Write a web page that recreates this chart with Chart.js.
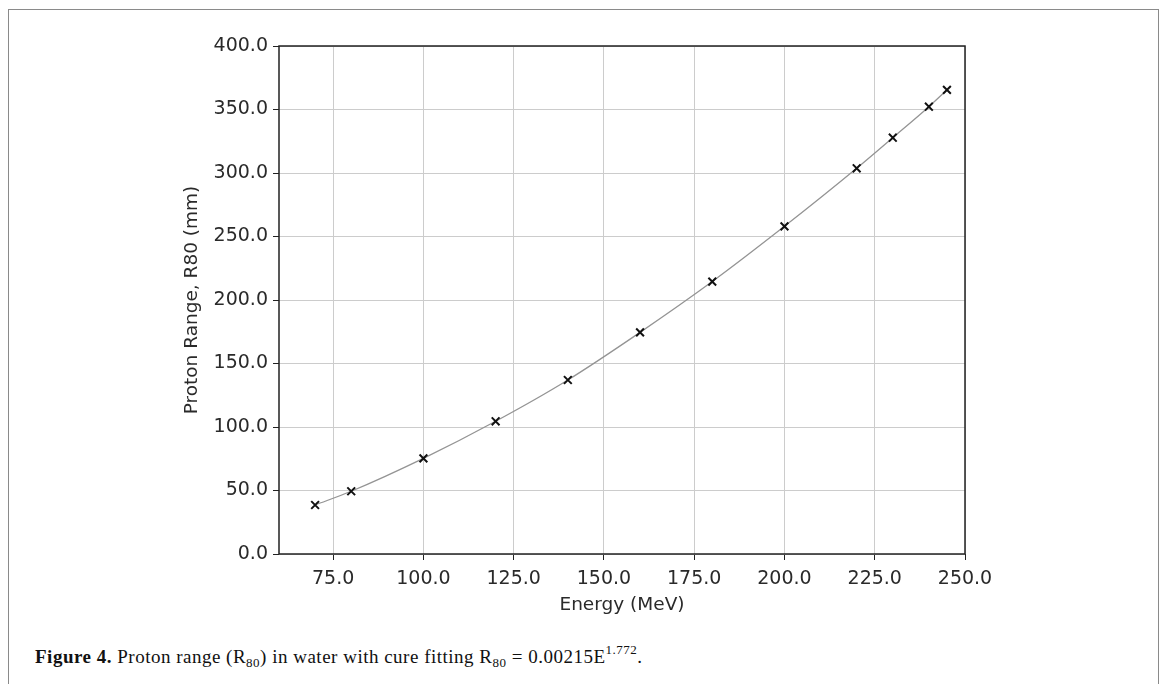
<!DOCTYPE html>
<html>
<head>
<meta charset="utf-8">
<script src="https://cdn.jsdelivr.net/npm/chart.js@4/dist/chart.umd.min.js"></script>
<style>
  body { margin: 0; background: #fff; width: 1167px; height: 684px; overflow: hidden; position: relative; }
  .frame { position: absolute; left: 8px; top: 9px; width: 1151px; height: 700px; border: 1px solid #8a8a8a; box-sizing: border-box; }
  .chartBox { position: absolute; left: 0; top: 0; width: 1167px; height: 616px; }
  .caption { position: absolute; left: 35px; top: 646px; font-family: "Liberation Serif", serif; font-size: 19px; letter-spacing: 0.5px; color: #111; white-space: nowrap; }
  .caption sub { font-size: 13px; vertical-align: -4px; line-height: 0; }
  .caption sup { font-size: 13px; vertical-align: 9px; line-height: 0; }
</style>
</head>
<body>
<div class="frame"></div>
<div class="chartBox"><canvas id="chart"></canvas></div>
<div class="caption"><b>Figure 4.</b> Proton range (R<sub>80</sub>) in water with cure fitting R<sub>80</sub> = 0.00215E<sup>1.772</sup>.</div>
<script>
const energy = [70, 80, 100, 120, 140, 160, 180, 200, 220, 230, 240, 245];
const range = [38.6, 49.4, 75.3, 104.5, 137, 174.5, 214.5, 258, 303.7, 327.8, 352.2, 365.4];
const xTicks = [75, 100, 125, 150, 175, 200, 225, 250];
const yTicks = [0, 50, 100, 150, 200, 250, 300, 350, 400];

const tickFont = { family: 'DejaVu Sans', size: 19 };
const titleFont = { family: 'DejaVu Sans', size: 18.5 };

// matplotlib-style box round the plot area
const frameBox = {
  id: 'frameBox',
  afterDatasetsDraw(chart) {
    const { ctx, chartArea: a } = chart;
    ctx.save();
    ctx.strokeStyle = '#222';
    ctx.lineWidth = 1.5;
    ctx.strokeRect(a.left, a.top, a.right - a.left, a.bottom - a.top);
    ctx.restore();
  },
};

new Chart(document.getElementById('chart'), {
  type: 'line',
  data: {
    datasets: [{
      data: energy.map((e, i) => ({ x: e, y: range[i] })),
      borderColor: '#949494',
      borderWidth: 1.3,
      tension: 0.4,
      cubicInterpolationMode: 'monotone',
      pointStyle: 'crossRot',
      pointRadius: 5.5,
      pointBorderColor: '#111',
      pointBorderWidth: 2,
      pointHoverRadius: 5.5,
      fill: false,
    }],
  },
  options: {
    responsive: true,
    maintainAspectRatio: false,
    animation: false,
    layout: { padding: { left: 181, right: 202, top: 46, bottom: 0 } },
    plugins: { legend: { display: false }, tooltip: { enabled: false } },
    scales: {
      x: {
        type: 'linear',
        min: 60,
        max: 250,
        afterBuildTicks: (s) => { s.ticks = xTicks.map((v) => ({ value: v })); },
        afterFit: (s) => { s.height = 62; },
        grid: { color: '#cccccc', lineWidth: 1, tickColor: '#222', tickLength: 6 },
        border: { display: false },
        ticks: { font: tickFont, color: '#2a2a2a', padding: 8, maxRotation: 0, callback: (v) => v.toFixed(1) },
        title: { display: true, text: 'Energy (MeV)', font: titleFont, color: '#2a2a2a', padding: { top: 2, bottom: 0 } },
      },
      y: {
        min: 0,
        max: 400,
        afterBuildTicks: (s) => { s.ticks = yTicks.map((v) => ({ value: v })); },
        afterFit: (s) => { s.width = 98; },
        grid: { color: '#cccccc', lineWidth: 1, tickColor: '#222', tickLength: 6 },
        border: { display: false },
        ticks: { font: tickFont, color: '#2a2a2a', padding: 5, callback: (v) => v.toFixed(1) },
        title: { display: true, text: 'Proton Range, R80 (mm)', font: titleFont, color: '#2a2a2a', padding: 0 },
      },
    },
  },
  plugins: [frameBox],
});
</script>
</body>
</html>
